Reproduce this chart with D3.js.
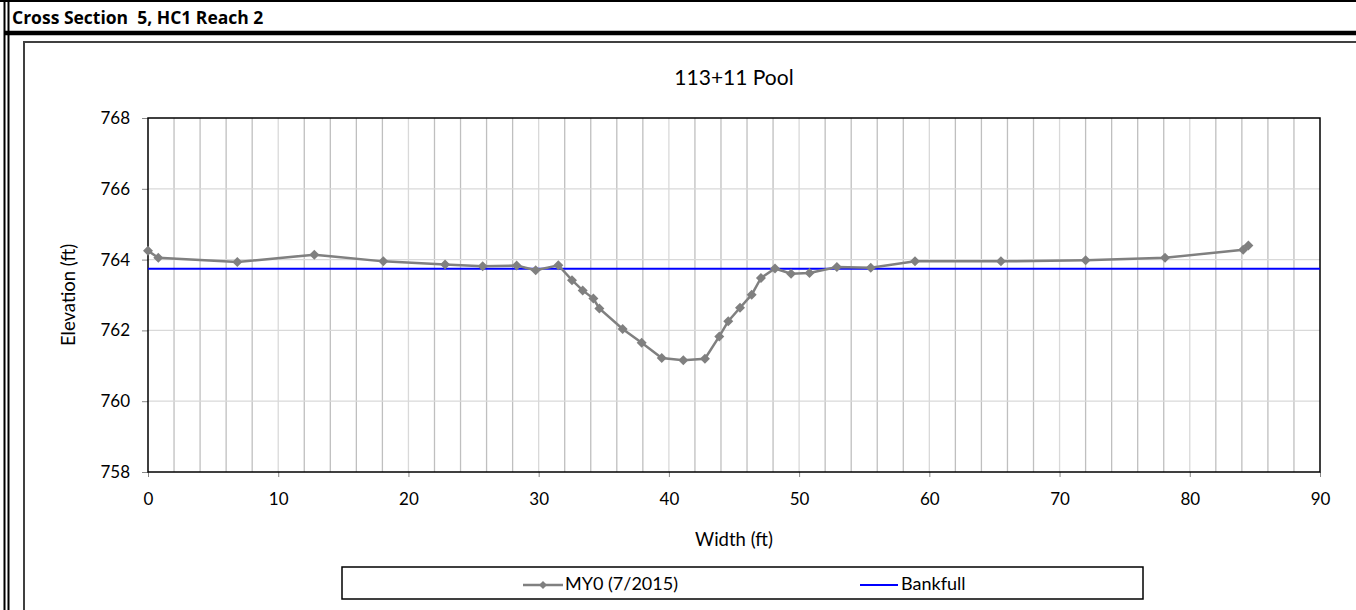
<!DOCTYPE html>
<html>
<head>
<meta charset="utf-8">
<script src="https://cdn.jsdelivr.net/npm/d3@7"></script>
<style>
  body { margin: 0; background: #fff; }
  text { font-family: Lato, "Open Sans", sans-serif; fill: #000; }
</style>
</head>
<body>
<div id="chart"></div>
<script>
// survey data
const stations = [0, 0.79, 6.86, 12.77, 18.07, 22.81, 25.7, 28.31, 29.77, 31.51, 32.56, 33.38, 34.2, 34.66,
  36.45, 37.91, 39.45, 41.11, 42.77, 43.87, 44.56, 45.46, 46.36, 47.07, 48.15, 49.38, 50.8, 52.9, 55.5,
  58.9, 65.5, 72.0, 78.1, 84.1, 84.5];
const elevations = [764.25, 764.05, 763.93, 764.14, 763.95, 763.86, 763.81, 763.83, 763.70, 763.84, 763.42,
  763.13, 762.9, 762.62, 762.04, 761.65, 761.22, 761.16, 761.2, 761.83, 762.26, 762.64, 763.01, 763.48,
  763.75, 763.6, 763.62, 763.79, 763.77, 763.95, 763.95, 763.98, 764.05, 764.28, 764.4];
const bankfull = 763.74;
const xTicks = [0, 10, 20, 30, 40, 50, 60, 70, 80, 90];
const yTicks = [758, 760, 762, 764, 766, 768];
const seriesNames = ["MY0 (7/2015)", "Bankfull"];

const W = 1356, H = 610;
const margin = { top: 118, right: 36, bottom: 138, left: 148 };
const width = W - margin.left - margin.right;
const height = H - margin.top - margin.bottom;

const svgRoot = d3.select("#chart").append("svg")
  .attr("width", W)
  .attr("height", H);

// page frame: header rules and double left border
svgRoot.append("line").attr("x1", 0).attr("x2", W).attr("y1", 1).attr("y2", 1)
  .attr("stroke", "#000").attr("stroke-width", 2);
svgRoot.append("line").attr("x1", 4).attr("x2", W).attr("y1", 33).attr("y2", 33)
  .attr("stroke", "#000").attr("stroke-width", 4.5);
svgRoot.append("line").attr("x1", 4.5).attr("x2", 4.5).attr("y1", 0).attr("y2", H)
  .attr("stroke", "#000").attr("stroke-width", 2);
svgRoot.append("line").attr("x1", 8.5).attr("x2", 8.5).attr("y1", 0).attr("y2", H)
  .attr("stroke", "#000").attr("stroke-width", 2);
svgRoot.append("text")
  .attr("x", 12).attr("y", 24)
  .style("font-family", "'Open Sans', sans-serif")
  .style("font-weight", "bold").style("font-size", "17.5px")
  .style("white-space", "pre")
  .text("Cross Section  5, HC1 Reach 2");

// chart area box
svgRoot.append("rect")
  .attr("x", 24).attr("y", 42).attr("width", W).attr("height", H)
  .attr("fill", "none").attr("stroke", "#404040").attr("stroke-width", 2);

svgRoot.append("text")
  .attr("x", margin.left + width / 2).attr("y", 80)
  .attr("text-anchor", "middle").attr("dominant-baseline", "middle")
  .style("font-size", "21px")
  .text("113+11 Pool");

const svg = svgRoot.append("g")
  .attr("transform", `translate(${margin.left},${margin.top})`);

const xScale = d3.scaleLinear().domain([0, 90]).range([0, width]);
const yScale = d3.scaleLinear().domain([758, 768]).range([height, 0]);

// gridlines
svg.append("g")
  .selectAll("line")
  .data(d3.range(2, 90, 2))
  .enter().append("line")
  .attr("x1", d => xScale(d)).attr("x2", d => xScale(d))
  .attr("y1", 0).attr("y2", height)
  .attr("stroke", d => d % 10 === 0 ? "#d9d9d9" : "#bfbfbf")
  .attr("stroke-width", 1.3);
svg.append("g")
  .selectAll("line")
  .data(yTicks.slice(1, -1))
  .enter().append("line")
  .attr("x1", 0).attr("x2", width)
  .attr("y1", d => yScale(d)).attr("y2", d => yScale(d))
  .attr("stroke", "#d9d9d9")
  .attr("stroke-width", 1.3);

// axes
const xAxis = svg.append("g")
  .attr("transform", `translate(0,${height})`)
  .call(d3.axisBottom(xScale).tickValues(xTicks).tickSize(5).tickPadding(16));
const yAxis = svg.append("g")
  .call(d3.axisLeft(yScale).tickValues(yTicks).tickSize(6).tickPadding(12));
[xAxis, yAxis].forEach(a => {
  a.select(".domain").remove();
  a.selectAll("line").attr("stroke", "#888");
  a.selectAll("text").style("font-size", "17px").style("font-family", "Lato, sans-serif");
});

svg.append("rect")
  .attr("width", width).attr("height", height)
  .attr("fill", "none").attr("stroke", "#000").attr("stroke-width", 1.5);

svg.append("text")
  .attr("x", width / 2).attr("y", height + 74)
  .attr("text-anchor", "middle")
  .style("font-size", "18.5px")
  .text("Width (ft)");
svg.append("text")
  .attr("transform", "rotate(-90)")
  .attr("x", -height / 2).attr("y", -73)
  .attr("text-anchor", "middle")
  .style("font-size", "18.5px")
  .text("Elevation (ft)");

// bankfull
svg.append("line")
  .attr("x1", xScale(0)).attr("x2", xScale(90))
  .attr("y1", yScale(bankfull)).attr("y2", yScale(bankfull))
  .attr("stroke", "#0000ff").attr("stroke-width", 2);

// survey line
const points = stations.map((s, i) => ({ x: s, y: elevations[i] }));
svg.append("path")
  .datum(points)
  .attr("fill", "none")
  .attr("stroke", "#808080")
  .attr("stroke-width", 2.5)
  .attr("d", d3.line().x(d => xScale(d.x)).y(d => yScale(d.y)));

const diamond = d3.symbol().type(d3.symbolSquare).size(50);
svg.selectAll(".marker")
  .data(points)
  .enter().append("path")
  .attr("class", "marker")
  .attr("d", diamond)
  .attr("fill", "#808080")
  .attr("transform", d => `translate(${xScale(d.x)},${yScale(d.y)}) rotate(45)`);

// legend
const legend = svgRoot.append("g");
legend.append("rect")
  .attr("x", 342).attr("y", 567).attr("width", 801).attr("height", 32)
  .attr("fill", "#fff").attr("stroke", "#000").attr("stroke-width", 1.5);
const ly = 585;
legend.append("line").attr("x1", 523).attr("x2", 563).attr("y1", ly).attr("y2", ly)
  .attr("stroke", "#808080").attr("stroke-width", 2.5);
legend.append("path").attr("d", d3.symbol().type(d3.symbolSquare).size(32))
  .attr("fill", "#808080").attr("transform", `translate(543,${ly}) rotate(45)`);
legend.append("text").attr("x", 565).attr("y", ly).attr("dominant-baseline", "middle")
  .style("font-size", "18px").text(seriesNames[0]);
legend.append("line").attr("x1", 860).attr("x2", 898).attr("y1", ly).attr("y2", ly)
  .attr("stroke", "#0000ff").attr("stroke-width", 2);
legend.append("text").attr("x", 901).attr("y", ly).attr("dominant-baseline", "middle")
  .style("font-size", "18px").text(seriesNames[1]);
</script>
</body>
</html>
